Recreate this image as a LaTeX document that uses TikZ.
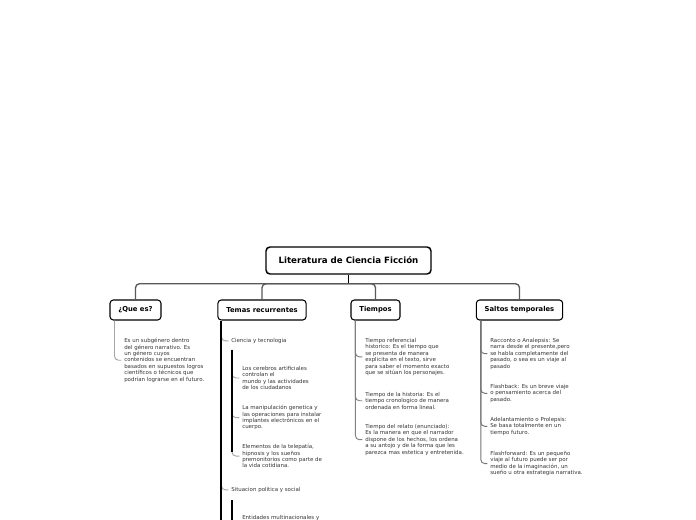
\documentclass[tikz,border=0pt]{standalone}
\usepackage{fontspec}
\setmainfont{DejaVu Sans}
\usetikzlibrary{positioning}

\begin{document}
\begin{tikzpicture}[x=0.75pt,y=0.75pt,yscale=-1,xscale=1,
  rootbox/.style={draw, rounded corners=3pt, line width=1.1pt, fill=white,
    minimum width=123.75pt, minimum height=20.25pt,
    font=\fontsize{6.5}{7.5}\selectfont\bfseries},
  topicbox/.style={draw, rounded corners=2.5pt, line width=0.8pt, fill=white,
    inner xsep=6.3pt, minimum height=15pt,
    font=\fontsize{5.1}{6}\selectfont\bfseries},
  leaf/.style={anchor=north west, inner sep=0pt, align=left, text=black!80,
    font=\fontsize{4.1}{4.8}\selectfont},
  trunk/.style={line width=1.4pt, black},
  branch/.style={line width=1pt, black!65, rounded corners=3pt},
  twig/.style={line width=0.7pt, black!35, rounded corners=3pt, shorten >=2pt},
  stem/.style={line width=1.5pt, black}
]
\clip (0,0) rectangle (696,520);

% Main topic
\node[rootbox] (root) at (348.5,260.5) {Literatura de Ciencia Ficción};

% Topics
\node[topicbox] (que) at (135.5,310) {¿Que es?};
\node[topicbox] (temas) at (262,310) {Temas recurrentes};
\node[topicbox] (tiempos) at (375.5,310) {Tiempos};
\node[topicbox] (saltos) at (519.5,310) {Saltos temporales};

% Connectors to topics
\draw[trunk] (root.south) -- ++(0,9) coordinate (hub);
\foreach \t in {que,temas,tiempos,saltos}
  \draw[branch] (hub) -| (\t.north);

% Text Node
\node[leaf] (que1) at (124,338) {Es un subgénero dentro\\del género narrativo. Es\\un género cuyos\\contenidos se encuentran\\basados en supuestos logros\\científicos o técnicos que\\podrían lograrse en el futuro.};
\draw[twig] ([xshift=3.75pt]que.south west) |- (que1.west);

% Temas recurrentes
\node[leaf] (ciencia) at (231,338) {Ciencia y tecnologia};
\node[leaf] (cien1) at (242,366) {Los cerebros artificiales\\controlan el\\mundo y las actividades\\de los ciudadanos};
\node[leaf] (cien2) at (242,405) {La manipulación genetica y\\las operaciones para instalar\\implantes electrónicos en el\\cuerpo.};
\node[leaf] (cien3) at (242,444) {Elementos de la telepatía,\\hipnosis y los sueños\\premonitorios como parte de\\la vida cotidiana.};
\node[leaf] (situ) at (231,487) {Situacion politica y social};
\node[leaf] (situ1) at (242,515) {Entidades multinacionales y};
\path (temas.south west) ++(4,0) coordinate (tstart);
\path (ciencia.south west) ++(1,6) coordinate (cstart);
\path (cstart |- cien3.west) ++(0,-4) coordinate (cend);
\path (situ.south west) ++(1,7) coordinate (sstart);
\coordinate (bottom) at (0,525);

\foreach \l in {ciencia,situ}
  \draw[twig] (tstart) |- (\l.west);
\foreach \l in {cien1,cien2,cien3}
  \draw[twig] (cstart) |- (\l.west);
\draw[stem] (tstart) -- (tstart |- bottom);
\draw[stem, line width=1pt] (cstart) -- (cend);
\draw[stem, line width=1pt] (sstart) -- (sstart |- bottom);

% Tiempos
\node[leaf] (tie1) at (365,338) {Tiempo referencial\\historico: Es el tiempo que\\se presenta de manera\\explicita en el texto, sirve\\para saber el momento exacto\\que se sitúan los personajes.};
\node[leaf] (tie2) at (365,392) {Tiempo de la historia: Es el\\tiempo cronologico de manera\\ordenada en forma lineal.};
\node[leaf] (tie3) at (365,424) {Tiempo del relato (enunciado):\\Es la manera en que el narrador\\dispone de los hechos, los ordena\\a su antojo y de la forma que les\\parezca mas estetica y entretenida.};
\foreach \l in {tie1,tie2,tie3}
  \draw[twig, black!50] ([xshift=3.75pt]tiempos.south west) |- (\l.west);

% Saltos temporales
\node[leaf] (sal1) at (490,338) {Racconto o Analepsis: Se\\narra desde el presente,pero\\se habla completamente del\\pasado, o sea es un viaje al\\pasado};
\node[leaf] (sal2) at (490,384) {Flashback: Es un breve viaje\\o pensamiento acerca del\\pasado.};
\node[leaf] (sal3) at (490,417) {Adelantamiento o Prolepsis:\\Se basa totalmente en un\\tiempo futuro.};
\node[leaf] (sal4) at (490,451) {Flashforward: Es un pequeño\\viaje al futuro puede ser por\\medio de la imaginación, un\\sueño u otra estrategia narrativa.};
\foreach \l in {sal1,sal2,sal3,sal4}
  \draw[twig, black!55] ([xshift=3.75pt]saltos.south west) |- (\l.west);
\end{tikzpicture}
\end{document}
